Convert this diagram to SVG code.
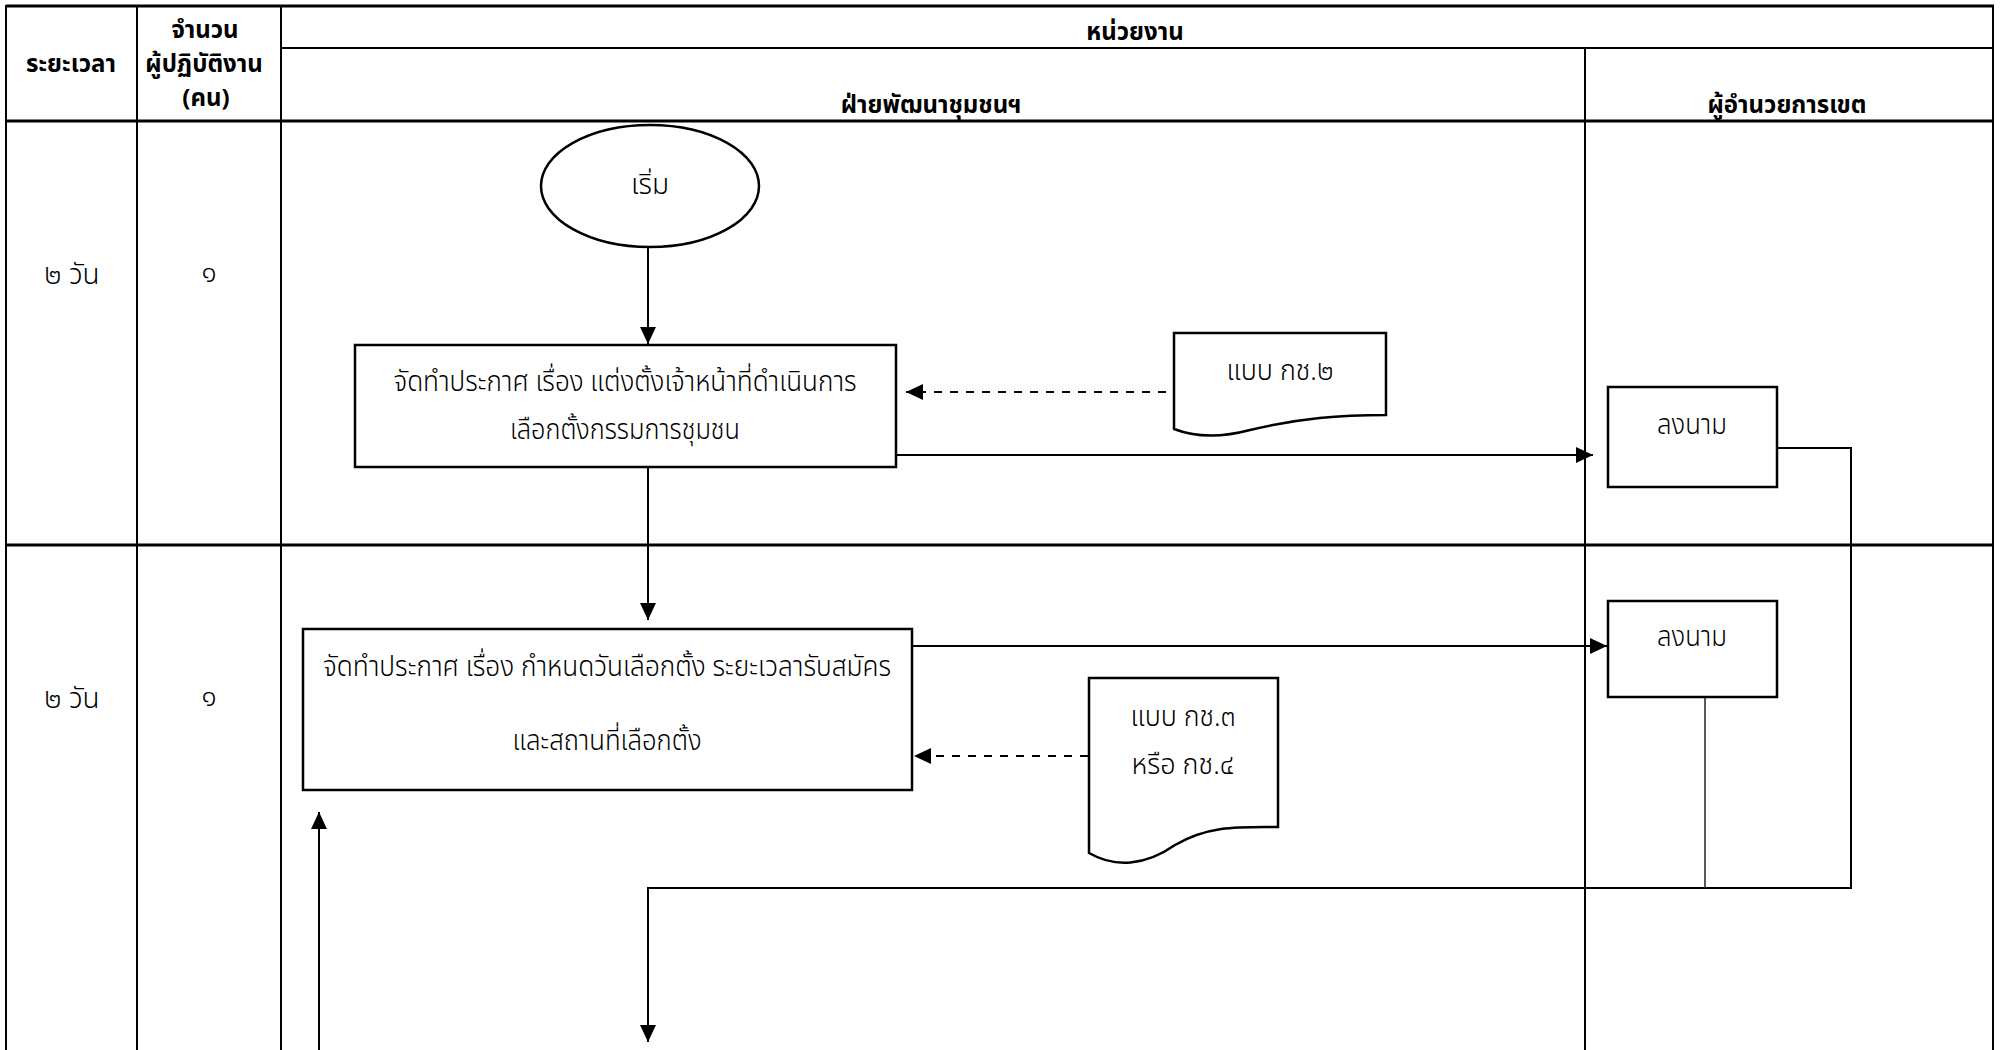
<svg xmlns="http://www.w3.org/2000/svg" width="2000" height="1050" viewBox="0 0 2000 1050">
  <style>
    .t { font-family: "Noto Sans Thai", "Noto Sans Thai UI", "Loma", "Garuda", "Norasi", "Noto Sans", "DejaVu Sans", sans-serif; font-size: 28px; font-weight: 300; fill: #000; text-anchor: middle; }
    .h { font-weight: bold; font-size: 24px; }
    .grid { stroke: #000; stroke-width: 2; fill: none; }
    .heavy { stroke: #000; stroke-width: 3; fill: none; }
    .shape { fill: #fff; stroke: #000; stroke-width: 2.5; }
    .line { stroke: #000; stroke-width: 2; fill: none; }
    .thin { stroke: #222; stroke-width: 1.5; fill: none; }
    .dash { stroke: #000; stroke-width: 2; fill: none; stroke-dasharray: 8 8; }
  </style>
  <defs>
    <marker id="arrow" markerUnits="userSpaceOnUse" markerWidth="18" markerHeight="16" refX="17" refY="8" orient="auto">
      <path d="M0,0 L17,8 L0,16 z" fill="#000"/>
    </marker>
  </defs>

  <rect width="2000" height="1050" fill="#fff"/>

  <!-- table frame -->
  <g id="table">
    <line class="heavy" x1="6" y1="6" x2="1994" y2="6"/>
    <line class="grid" x1="6" y1="5" x2="6" y2="1050"/>
    <line class="grid" x1="1993" y1="5" x2="1993" y2="1050"/>
    <line class="grid" x1="137" y1="6" x2="137" y2="1050"/>
    <line class="grid" x1="281" y1="6" x2="281" y2="1050"/>
    <line class="grid" x1="281" y1="48" x2="1993" y2="48"/>
    <line class="grid" x1="1585" y1="48" x2="1585" y2="1050"/>
    <line class="heavy" x1="6" y1="121" x2="1994" y2="121"/>
    <line class="heavy" x1="6" y1="545" x2="1994" y2="545"/>
  </g>

  <!-- header texts -->
  <g id="header">
    <text class="t h" x="71" y="72">ระยะเวลา</text>
    <text class="t h" x="205" y="38">จำนวน</text>
    <text class="t h" x="204" y="72">ผู้ปฏิบัติงาน</text>
    <text class="t h" x="206" y="106">(คน)</text>
    <text class="t h" x="1135" y="40">หน่วยงาน</text>
    <text class="t h" x="931" y="113">ฝ่ายพัฒนาชุมชนฯ</text>
    <text class="t h" x="1787" y="113">ผู้อำนวยการเขต</text>
  </g>

  <!-- row labels -->
  <g id="rows">
    <text class="t" x="72" y="284">๒ วัน</text>
    <text class="t" x="209" y="282">๑</text>
    <text class="t" x="72" y="708">๒ วัน</text>
    <text class="t" x="209" y="706">๑</text>
  </g>

  <!-- connectors -->
  <g id="connectors">
    <line class="line" x1="648" y1="247" x2="648" y2="344" marker-end="url(#arrow)"/>
    <line class="line" x1="648" y1="468" x2="648" y2="620" marker-end="url(#arrow)"/>
    <line class="dash" x1="1166" y1="392" x2="906" y2="392" marker-end="url(#arrow)"/>
    <line class="line" x1="897" y1="455" x2="1593" y2="455" marker-end="url(#arrow)"/>
    <line class="line" x1="913" y1="646" x2="1607" y2="646" marker-end="url(#arrow)"/>
    <line class="dash" x1="1088" y1="756" x2="914" y2="756" marker-end="url(#arrow)"/>
    <polyline class="line" points="1777,448 1851,448 1851,888 648,888 648,1042" marker-end="url(#arrow)"/>
    <line class="thin" x1="1705" y1="697" x2="1705" y2="888"/>
    <line class="line" x1="319" y1="1050" x2="319" y2="812" marker-end="url(#arrow)"/>
  </g>

  <!-- start -->
  <g id="start">
    <ellipse class="shape" cx="650" cy="186" rx="109" ry="61"/>
    <text class="t" x="650" y="194">เริ่ม</text>
  </g>

  <!-- step 1 -->
  <g id="step1">
    <rect class="shape" x="355" y="345" width="541" height="122"/>
    <text class="t" x="625" y="391" textLength="463" lengthAdjust="spacingAndGlyphs">จัดทำประกาศ เรื่อง แต่งตั้งเจ้าหน้าที่ดำเนินการ</text>
    <text class="t" x="625" y="439" textLength="230" lengthAdjust="spacingAndGlyphs">เลือกตั้งกรรมการชุมชน</text>
  </g>

  <!-- form 2 -->
  <g id="doc1">
    <path class="shape" d="M1174,333 H1386 V415 C1340,415 1300,418 1250,430 C1220,438 1195,437 1174,429 Z"/>
    <text class="t" x="1280" y="380" textLength="107" lengthAdjust="spacingAndGlyphs">แบบ กช.๒</text>
  </g>

  <!-- sign 1 -->
  <g id="sign1">
    <rect class="shape" x="1608" y="387" width="169" height="100"/>
    <text class="t" x="1692" y="434" textLength="70" lengthAdjust="spacingAndGlyphs">ลงนาม</text>
  </g>

  <!-- step 2 -->
  <g id="step2">
    <rect class="shape" x="303" y="629" width="609" height="161"/>
    <text class="t" x="607" y="676" textLength="568" lengthAdjust="spacingAndGlyphs">จัดทำประกาศ เรื่อง กำหนดวันเลือกตั้ง ระยะเวลารับสมัคร</text>
    <text class="t" x="607" y="750" textLength="189" lengthAdjust="spacingAndGlyphs">และสถานที่เลือกตั้ง</text>
  </g>

  <!-- form 3 / 4 -->
  <g id="doc2">
    <path class="shape" d="M1089,678 H1278 V827 C1240,827 1210,825 1175,845 C1145,866 1115,868 1089,853 Z"/>
    <text class="t" x="1183" y="726" textLength="105" lengthAdjust="spacingAndGlyphs">แบบ กช.๓</text>
    <text class="t" x="1183" y="774" textLength="103" lengthAdjust="spacingAndGlyphs">หรือ กช.๔</text>
  </g>

  <!-- sign 2 -->
  <g id="sign2">
    <rect class="shape" x="1608" y="601" width="169" height="96"/>
    <text class="t" x="1692" y="646" textLength="70" lengthAdjust="spacingAndGlyphs">ลงนาม</text>
  </g>
</svg>
